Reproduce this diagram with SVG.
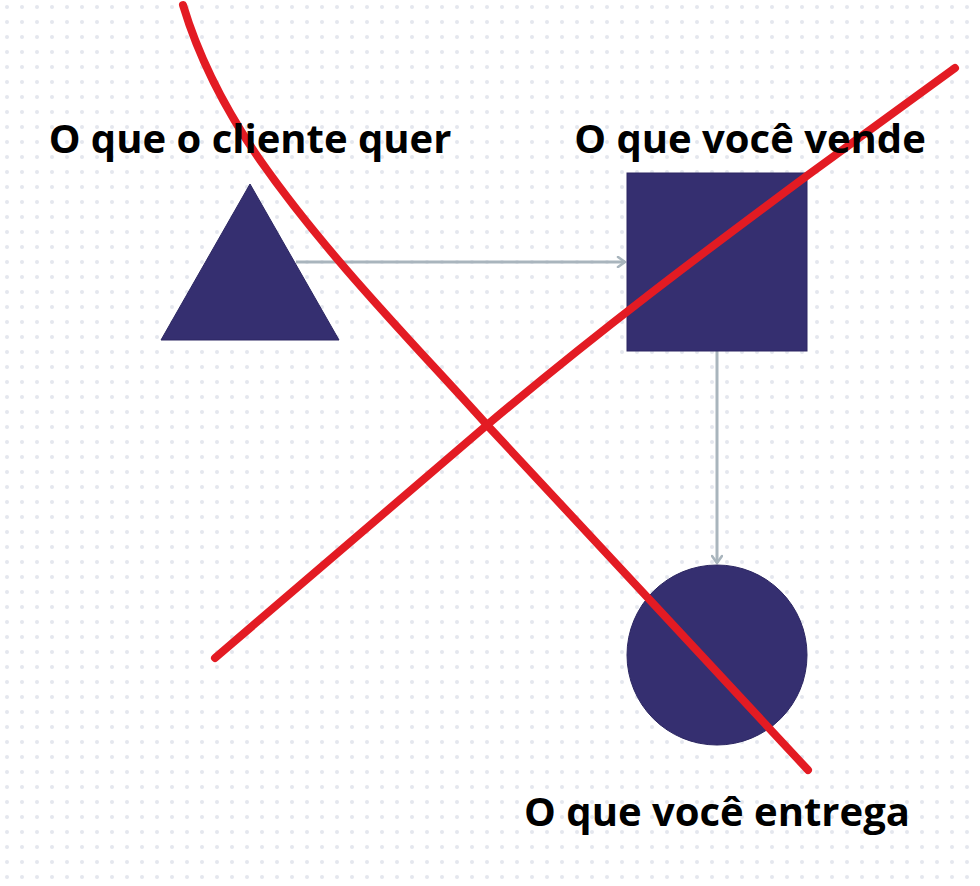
<svg xmlns="http://www.w3.org/2000/svg" width="980" height="886" viewBox="0 0 980 886">
<style>
.shape{fill:#352f70;stroke:#2c2762;stroke-width:1}
.conn{fill:none;stroke:#a9b5bd;stroke-width:3}
.red{fill:none;stroke:#e31b23;stroke-width:8;stroke-linecap:round;stroke-linejoin:round}
.lbl{font-family:"Open Sans","Noto Sans",sans-serif;font-weight:700;font-size:40px;fill:#000;text-anchor:middle}
</style>
<defs>
<pattern id="dots" x="0" y="0" width="15" height="15" patternUnits="userSpaceOnUse">
<circle cx="7" cy="7" r="2" fill="#e4e7ee"/>
</pattern>
<marker id="arr" viewBox="0 0 12 12" refX="10" refY="6" markerWidth="12" markerHeight="12" markerUnits="userSpaceOnUse" orient="auto">
<path d="M3,1 L10,6 L3,11" fill="none" stroke="#a9b5bd" stroke-width="2.6" stroke-linecap="round" stroke-linejoin="round"/>
</marker>
</defs>
<rect width="980" height="886" fill="#fff"/>
<rect width="980" height="886" fill="url(#dots)"/>
<g id="connectors">
<line class="conn" x1="296" y1="262" x2="625" y2="262" marker-end="url(#arr)"/>
<line class="conn" x1="717" y1="351" x2="717" y2="563" marker-end="url(#arr)"/>
</g>
<g id="node-triangle"><polygon class="shape" points="250,184 339,340 161,340"/></g>
<g id="node-square"><rect class="shape" x="627" y="173" width="180" height="178"/></g>
<g id="node-circle"><circle class="shape" cx="717" cy="655" r="90"/></g>
<g id="cross">
<path class="red" d="M183,5 C198,55 222,105 260,160 C330,260 420,350 487,425 L808,770"/>
<path class="red" d="M215,658 L487,425 C600,330 700,255 808,175 L955,68"/>
</g>
<g id="labels">
<text class="lbl" x="250" y="153">O que o cliente quer</text>
<text class="lbl" x="750" y="153">O que você vende</text>
<text class="lbl" x="717" y="826">O que você entrega</text>
</g>
</svg>
